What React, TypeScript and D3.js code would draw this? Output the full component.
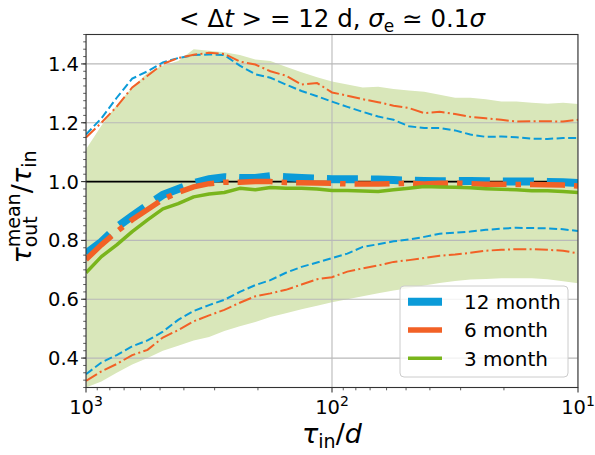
import React from 'react';
import * as d3 from 'd3';

// tau_in grid (days), left to right on the reversed log axis
const tau = [1000, 866, 750, 649, 562, 487, 422, 365, 316, 274, 237, 205, 178, 154, 133, 115, 100,
  86.6, 75, 64.9, 56.2, 48.7, 42.2, 36.5, 31.6, 27.4, 23.7, 20.5, 17.8, 15.4, 13.3, 11.5, 10];

// shaded band (3 month spread)
const bandHigh = [1.11, 1.19, 1.26, 1.32, 1.37, 1.395, 1.41, 1.45, 1.445, 1.44, 1.43, 1.415, 1.41, 1.39, 1.372,
  1.355, 1.34, 1.33, 1.32, 1.322, 1.315, 1.31, 1.305, 1.295, 1.285, 1.285, 1.28, 1.272, 1.272, 1.268, 1.265, 1.268, 1.264];
const bandLow = [0.30, 0.32, 0.35, 0.378, 0.40, 0.425, 0.442, 0.46, 0.472, 0.492, 0.508, 0.523, 0.54, 0.552, 0.566,
  0.578, 0.59, 0.60, 0.61, 0.62, 0.63, 0.637, 0.647, 0.655, 0.662, 0.667, 0.669, 0.671, 0.671, 0.671, 0.668, 0.661, 0.654];

// 12 month
const mean12 = [0.755, 0.795, 0.845, 0.883, 0.92, 0.955, 0.975, 0.995, 1.008, 1.015, 1.012, 1.012, 1.018, 1.015, 1.012,
  1.01, 1.008, 1.008, 1.008, 1.007, 1.005, 1.003, 1.002, 1.001, 1.002, 1.002, 1.001, 1.0, 1.0, 1.0, 0.999, 0.998, 0.995];
const high12 = [1.16, 1.215, 1.285, 1.35, 1.375, 1.405, 1.42, 1.43, 1.432, 1.43, 1.394, 1.365, 1.353, 1.33, 1.308,
  1.29, 1.272, 1.254, 1.237, 1.221, 1.21, 1.188, 1.182, 1.182, 1.174, 1.16, 1.152, 1.153, 1.151, 1.146, 1.145, 1.148, 1.148];
const low12 = [0.345, 0.385, 0.41, 0.44, 0.46, 0.49, 0.53, 0.56, 0.58, 0.598, 0.625, 0.648, 0.665, 0.69, 0.71,
  0.725, 0.74, 0.755, 0.778, 0.787, 0.797, 0.803, 0.812, 0.823, 0.826, 0.83, 0.836, 0.84, 0.843, 0.842, 0.841, 0.838, 0.832];

// 6 month
const mean6 = [0.735, 0.785, 0.83, 0.87, 0.905, 0.94, 0.963, 0.982, 0.993, 0.998, 0.998, 1.0, 1.0, 0.997, 0.996,
  0.995, 0.994, 0.992, 0.992, 0.992, 0.993, 0.994, 0.992, 0.994, 0.995, 0.993, 0.991, 0.991, 0.99, 0.99, 0.989, 0.988, 0.985];
const high6 = [1.15, 1.20, 1.255, 1.32, 1.36, 1.40, 1.42, 1.431, 1.438, 1.434, 1.408, 1.398, 1.375, 1.36, 1.33,
  1.335, 1.303, 1.292, 1.28, 1.27, 1.258, 1.25, 1.233, 1.237, 1.23, 1.22, 1.215, 1.21, 1.204, 1.205, 1.205, 1.204, 1.21];
const low6 = [0.322, 0.355, 0.38, 0.41, 0.428, 0.47, 0.495, 0.525, 0.545, 0.564, 0.588, 0.61, 0.62, 0.632, 0.65,
  0.668, 0.675, 0.694, 0.705, 0.715, 0.727, 0.733, 0.74, 0.748, 0.752, 0.758, 0.765, 0.768, 0.77, 0.77, 0.768, 0.765, 0.756];

// 3 month
const mean3 = [0.69, 0.745, 0.785, 0.83, 0.87, 0.907, 0.925, 0.948, 0.958, 0.963, 0.977, 0.972, 0.98, 0.977, 0.977,
  0.975, 0.97, 0.97, 0.968, 0.966, 0.972, 0.977, 0.983, 0.982, 0.981, 0.979, 0.976, 0.974, 0.972, 0.969, 0.969, 0.966, 0.963];

const yTicks = [0.4, 0.6, 0.8, 1.0, 1.2, 1.4];
const xTicks = [1000, 100, 10];
const xTickExp = ['3', '2', '1'];
const legendLabels = ['12 month', '6 month', '3 month'];

const BLUE = '#0b9bd8';
const ORANGE = '#f26126';
const GREEN = '#79b51c';
const FONT = 'DejaVu Sans, sans-serif';

export default function App() {
  const W = 595, H = 455;
  const left = 86, right = 578, top = 34.5, bottom = 387.5;

  const x = d3.scaleLog().domain([1000, 10]).range([left, right]);
  const y = d3.scaleLinear().domain([0.3, 1.5]).range([bottom, top]);

  const line = (vals: number[]) =>
    d3.line<number>().x((_, i) => x(tau[i])).y(d => y(d))(vals) || '';
  const band = d3.area<number>()
    .x((_, i) => x(tau[i]))
    .y0((_, i) => y(bandLow[i]))
    .y1(d => y(d))(bandHigh) || '';

  const xMinor = x.ticks().filter(t => !xTicks.includes(t));
  const yMinor = d3.range(0.3, 1.5001, 0.025).map(v => +v.toFixed(3));

  const legendX = 400, legendY = 286;

  return (
    <svg width={W} height={H} style={{ position: 'absolute', left: 0, top: 0, background: '#fff' }}
      fontFamily={FONT}>
      <defs>
        <clipPath id="plot">
          <rect x={left} y={top} width={right - left} height={bottom - top} />
        </clipPath>
      </defs>

      <g clipPath="url(#plot)">
        <path d={band} fill="#d9e7ba" />
        {yTicks.map(t => (
          <line key={'gy' + t} x1={left} x2={right} y1={y(t)} y2={y(t)} stroke="#b9b9b9" strokeWidth={1.1} />
        ))}
        {xTicks.map(t => (
          <line key={'gx' + t} x1={x(t)} x2={x(t)} y1={top} y2={bottom} stroke="#b9b9b9" strokeWidth={1.1} />
        ))}
        <line x1={left} x2={right} y1={y(1)} y2={y(1)} stroke="#000" strokeWidth={1.8} />

        <path d={line(high12)} fill="none" stroke={BLUE} strokeWidth={2} strokeDasharray="8 3.5" />
        <path d={line(low12)} fill="none" stroke={BLUE} strokeWidth={2} strokeDasharray="8 3.5" />
        <path d={line(high6)} fill="none" stroke={ORANGE} strokeWidth={2} strokeDasharray="13 3.3 2 3.3" />
        <path d={line(low6)} fill="none" stroke={ORANGE} strokeWidth={2} strokeDasharray="13 3.3 2 3.3" />

        <path d={line(mean12)} fill="none" stroke={BLUE} strokeWidth={8} strokeDasharray="31 13" />
        <path d={line(mean6)} fill="none" stroke={ORANGE} strokeWidth={5.5} strokeDasharray="35 9 5.5 9" />
        <path d={line(mean3)} fill="none" stroke={GREEN} strokeWidth={3.5} strokeLinejoin="round" />
      </g>

      {/* frame */}
      <rect x={left} y={top} width={right - left} height={bottom - top} fill="none" stroke="#333" strokeWidth={1.1} />

      {/* y axis */}
      {yMinor.map(t => (
        <line key={'my' + t} x1={left - 2.8} x2={left} y1={y(t)} y2={y(t)} stroke="#333" strokeWidth={0.8} />
      ))}
      {yTicks.map(t => (
        <g key={'ty' + t}>
          <line x1={left - 4.9} x2={left} y1={y(t)} y2={y(t)} stroke="#333" strokeWidth={1.1} />
          <text x={left - 7} y={y(t)} dy="0.36em" textAnchor="end" fontSize={19.5}>{t.toFixed(1)}</text>
        </g>
      ))}

      {/* x axis */}
      {xMinor.map(t => (
        <line key={'mx' + t} x1={x(t)} x2={x(t)} y1={bottom} y2={bottom + 2.8} stroke="#333" strokeWidth={0.8} />
      ))}
      {xTicks.map((t, i) => (
        <g key={'tx' + t}>
          <line x1={x(t)} x2={x(t)} y1={bottom} y2={bottom + 4.9} stroke="#333" strokeWidth={1.1} />
          <text x={x(t)} y={414} textAnchor="middle" fontSize={19.5}>
            10<tspan dy={-8} fontSize={14}>{xTickExp[i]}</tspan>
          </text>
        </g>
      ))}

      {/* title */}
      <text x={(left + right) / 2} y={27} textAnchor="middle" fontSize={24.5}>
        {'< Δ'}<tspan fontStyle="italic">t</tspan>{' > = 12 d, '}
        <tspan fontStyle="italic">σ</tspan><tspan fontSize={17} dy={5}>e</tspan>
        <tspan dy={-5}>{' ≃ 0.1'}</tspan><tspan fontStyle="italic">σ</tspan>
      </text>

      {/* x label */}
      <text x={(left + right) / 2} y={443} textAnchor="middle" fontSize={27}>
        <tspan fontStyle="italic">τ</tspan><tspan fontSize={19} dy={5}>in</tspan>
        <tspan dy={-5}>/</tspan><tspan fontStyle="italic">d</tspan>
      </text>

      {/* y label */}
      <text transform={`translate(31, ${(top + bottom) / 2 - 4}) rotate(-90)`} textAnchor="middle" fontSize={27}>
        <tspan fontStyle="italic">τ</tspan>
        <tspan fontSize={19} dy={-11}>mean</tspan>
        <tspan fontSize={19} dx={-54} dy={17}>out</tspan>
        <tspan dx={23} dy={-6}>/</tspan><tspan fontStyle="italic">τ</tspan>
        <tspan fontSize={19} dy={5}>in</tspan>
      </text>

      {/* legend */}
      <rect x={legendX} y={legendY} width={168} height={91} rx={4} fill="#fff" fillOpacity={0.8}
        stroke="#cccccc" strokeWidth={1} />
      {legendLabels.map((lab, i) => {
        const cy = legendY + 15.7 + i * 28.3;
        const col = [BLUE, ORANGE, GREEN][i];
        const sw = [8, 5.5, 3.5][i];
        return (
          <g key={lab}>
            <line x1={legendX + 8} x2={legendX + 42} y1={cy} y2={cy} stroke={col} strokeWidth={sw} />
            <text x={legendX + 64} y={cy} dy="0.36em" fontSize={20}>{lab}</text>
          </g>
        );
      })}
    </svg>
  );
}
